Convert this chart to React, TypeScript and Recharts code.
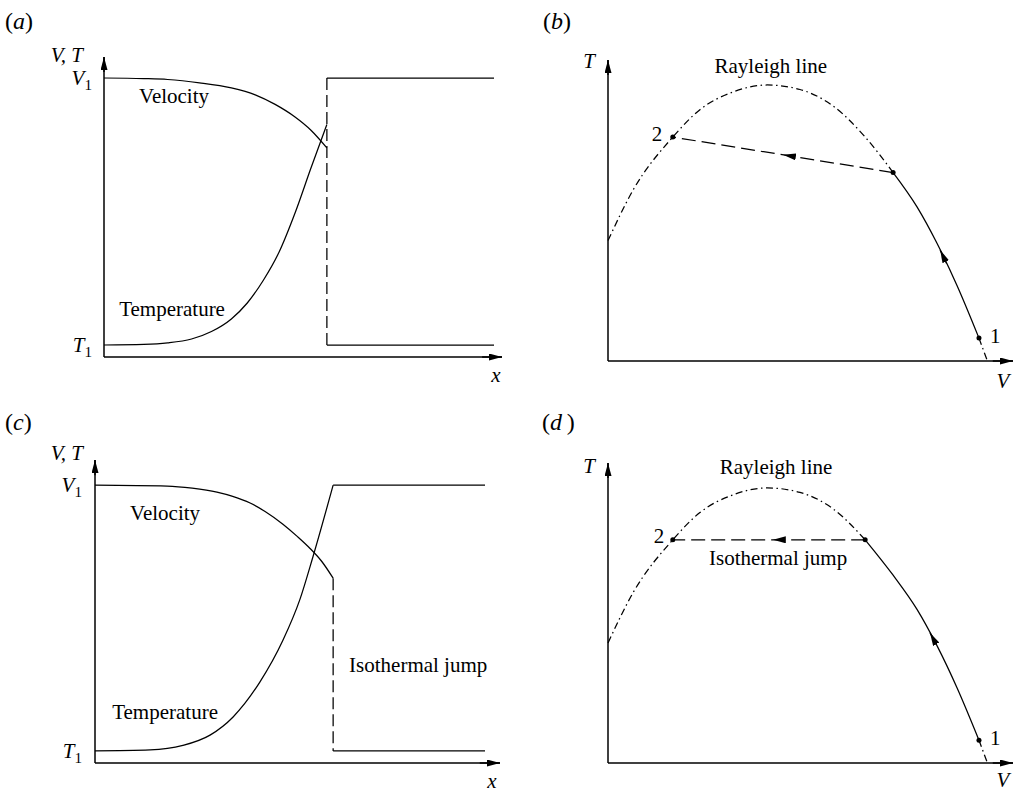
import React from 'react';
import { LineChart, Line, XAxis, YAxis, ReferenceDot } from 'recharts';

const FONT = '"Liberation Serif", "Times New Roman", Times, serif';

// ---------- Panel (a): profiles with a shock ----------
const A_VELOCITY = [
  { x: 0, y: 9.3 }, { x: 1.0, y: 9.28 }, { x: 1.6, y: 9.25 }, { x: 2.4, y: 9.14 },
  { x: 3.2, y: 8.97 }, { x: 3.8, y: 8.74 }, { x: 4.3, y: 8.42 }, { x: 4.8, y: 8.0 },
  { x: 5.2, y: 7.56 }, { x: 5.6, y: 6.97 },
];
const A_TEMPERATURE = [
  { x: 0, y: 0.4 }, { x: 1.0, y: 0.42 }, { x: 1.6, y: 0.47 }, { x: 2.2, y: 0.6 },
  { x: 2.7, y: 0.85 }, { x: 3.2, y: 1.27 }, { x: 3.6, y: 1.8 }, { x: 4.0, y: 2.55 },
  { x: 4.4, y: 3.5 }, { x: 4.8, y: 4.8 }, { x: 5.2, y: 6.3 }, { x: 5.6, y: 7.75 },
];
const A_T2 = [{ x: 5.6, y: 9.3 }, { x: 9.8, y: 9.3 }];
const A_V2 = [{ x: 5.6, y: 0.4 }, { x: 9.8, y: 0.4 }];
const A_SHOCK = [{ x: 5.6, y: 9.3 }, { x: 5.6, y: 0.4 }];
const A_LEFT_TICKS = [0.4, 9.3, 10];
const A_LEFT_LABELS = ['T_1', 'V_1', 'V, T'];
const A_RIGHT_TICKS = [9.3, 0.4];
const A_RIGHT_LABELS = ['T_2', 'V_2'];
const A_NOTES = [
  { x: 1.76, y: 8.47, text: 'Velocity' },
  { x: 1.71, y: 1.37, text: 'Temperature' },
];

// ---------- Panel (c): profiles with an isothermal jump ----------
const C_VELOCITY = [
  { x: 0, y: 9.17 }, { x: 1.78, y: 9.14 }, { x: 2.4, y: 9.07 }, { x: 3.01, y: 8.94 },
  { x: 3.4, y: 8.8 }, { x: 3.83, y: 8.58 }, { x: 4.2, y: 8.3 }, { x: 4.64, y: 7.88 },
  { x: 5.0, y: 7.47 }, { x: 5.31, y: 7.08 }, { x: 5.6, y: 6.65 }, { x: 5.88, y: 6.1 },
];
const C_TEMPERATURE = [
  { x: 0, y: 0.4 }, { x: 1.36, y: 0.43 }, { x: 2.17, y: 0.58 }, { x: 2.84, y: 0.92 },
  { x: 3.41, y: 1.52 }, { x: 4.07, y: 2.67 }, { x: 4.64, y: 4.05 }, { x: 5.06, y: 5.4 },
  { x: 5.38, y: 6.8 }, { x: 5.88, y: 9.17 },
];
const C_T2 = [{ x: 5.88, y: 9.17 }, { x: 9.63, y: 9.17 }];
const C_V2 = [{ x: 5.88, y: 0.4 }, { x: 9.63, y: 0.4 }];
const C_JUMP = [{ x: 5.88, y: 6.1 }, { x: 5.88, y: 0.4 }];
const C_LEFT_TICKS = [0.4, 9.17, 10];
const C_LEFT_LABELS = ['T_1', 'V_1', 'V, T'];
const C_RIGHT_TICKS = [9.17, 0.4];
const C_RIGHT_LABELS = ['T_2', 'V_2'];
const C_NOTES = [
  { x: 1.73, y: 8.02, text: 'Velocity' },
  { x: 1.73, y: 1.45, text: 'Temperature' },
  { x: 7.98, y: 3.0, text: 'Isothermal jump' },
];

// ---------- Panels (b), (d): Rayleigh line in T-V plane ----------
const RAYLEIGH = [
  { v: 0, t: 4.0 }, { v: 0.62, t: 5.68 }, { v: 1.6, t: 7.44 }, { v: 2.27, t: 8.35 },
  { v: 3.09, t: 8.94 }, { v: 3.93, t: 9.17 }, { v: 4.74, t: 9.02 }, { v: 5.56, t: 8.47 },
  { v: 6.35, t: 7.44 }, { v: 7.04, t: 6.26 }, { v: 7.63, t: 5.12 }, { v: 8.12, t: 3.92 },
  { v: 8.62, t: 2.5 }, { v: 9.16, t: 0.76 }, { v: 9.36, t: 0.03 },
];
const POINT_1 = { v: 9.16, t: 0.76 };
const POINT_2 = { v: 1.6, t: 7.44 };
const B_JUMP_START = { v: 7.04, t: 6.26 };
const B_JUMP_ARROW = [{ v: 4.7, t: 6.77 }, { v: 4.32, t: 6.85 }];
const B_PATH_ARROW = [{ v: 8.36, t: 3.24 }, { v: 8.2, t: 3.69 }];
const D_JUMP_START = { v: 6.35, t: 7.44 };
const D_JUMP_ARROW = [{ v: 4.45, t: 7.44 }, { v: 4.07, t: 7.44 }];
const D_PATH_ARROW = [{ v: 8.1, t: 3.97 }, { v: 7.95, t: 4.34 }];
const B_LEFT_TICKS = [10];
const B_LEFT_LABELS = ['T'];
const B_NOTES = [
  { v: 4.02, t: 9.57, text: 'Rayleigh line' },
  { v: 1.21, t: 7.3, text: '2' },
  { v: 9.56, t: 0.6, text: '1' },
];
const D_NOTES = [
  { v: 4.15, t: 9.63, text: 'Rayleigh line' },
  { v: 1.26, t: 7.33, text: '2' },
  { v: 4.2, t: 6.6, text: 'Isothermal jump' },
  { v: 9.56, t: 0.6, text: '1' },
];
const X_END_TICK = [10];
// axis arrow stubs (last stretch of each axis, in data units)
const X_ARROW = [{ x: 9.5, y: 0 }, { x: 10, y: 0 }];
const Y_ARROW = [{ x: 0, y: 9.5 }, { x: 0, y: 10 }];
const V_ARROW = [{ v: 9.5, t: 0 }, { v: 10, t: 0 }];
const T_ARROW = [{ v: 0, t: 9.5 }, { v: 0, t: 10 }];

const PANEL_LETTERS = [
  { letter: 'a', left: 5, top: 29 },
  { letter: 'b', left: 543, top: 29 },
  { letter: 'c', left: 5, top: 430 },
  { letter: 'd', left: 542, top: 430 },
];

// ---------- helpers ----------
const LINE = { stroke: '#000', strokeWidth: 1.25, dot: false, isAnimationActive: false, activeDot: false } as any;
const AXIS_LINE = { stroke: '#000', strokeWidth: 1.5 } as any;
const DASH_DOT = '7 3.5 1.5 3.5';

function MathText({ x, y, label, anchor, size = 21 }: any) {
  const parts = String(label).split('_');
  return (
    <text x={x} y={y} textAnchor={anchor} fontFamily={FONT} fontSize={size} fill="#000">
      <tspan fontStyle="italic">{parts[0]}</tspan>
      {parts[1] ? <tspan fontSize={size * 0.72} dy={5}>{parts[1]}</tspan> : null}
    </text>
  );
}

const makeTick = (values: number[], labels: string[], dx: number[], dy: number[], anchor: string) =>
  (props: any) => {
    const i = values.indexOf(props.payload.value);
    if (i < 0) return <g />;
    return <MathText x={props.x + dx[i]} y={props.y + dy[i]} label={labels[i]} anchor={anchor} />;
  };

const noteShape = (text: string) => (p: any) => (
  <text x={p.cx} y={p.cy} textAnchor="middle" fontFamily={FONT} fontSize={21} fill="#000">{text}</text>
);

const before = (lim: number) => RAYLEIGH.filter((d) => d.v <= lim);
const between = (a: number, b: number) => RAYLEIGH.filter((d) => d.v >= a && d.v <= b);
const after = (lim: number) => RAYLEIGH.filter((d) => d.v >= lim);

function ProfilePanel({ left, top, width, height, margin, vel, temp, t2, v2, jump, leftTicks, leftLabels,
  leftDx, leftDy, rightTicks, rightLabels, rightDx, rightDy, xDx, xDy, notes }: any) {
  return (
    <div style={{ position: 'absolute', left, top }}>
      <LineChart width={width} height={height} margin={margin}>
        <XAxis type="number" dataKey="x" domain={[0, 10]} ticks={X_END_TICK} interval={0}
          tickSize={0} tickMargin={0} tickLine={false} height={20} axisLine={AXIS_LINE}
          tick={makeTick(X_END_TICK, ['x'], [xDx], [xDy], 'middle')} />
        <YAxis type="number" domain={[0, 10]} ticks={leftTicks} interval={0} width={50}
          tickSize={0} tickMargin={0} tickLine={false} axisLine={AXIS_LINE}
          tick={makeTick(leftTicks, leftLabels, leftDx, leftDy, 'end')} />
        <YAxis yAxisId="r" orientation="right" type="number" domain={[0, 10]} ticks={rightTicks} interval={0}
          width={36} tickSize={0} tickMargin={0} tickLine={false} axisLine={false}
          tick={makeTick(rightTicks, rightLabels, rightDx, rightDy, 'start')} />
        <Line {...LINE} data={X_ARROW} dataKey="y" type="linear" strokeWidth={1.5} markerEnd="url(#axisArrow)" />
        <Line {...LINE} data={Y_ARROW} dataKey="y" type="linear" strokeWidth={1.5} markerEnd="url(#axisArrow)" />
        <Line {...LINE} data={vel} dataKey="y" type="monotone" />
        <Line {...LINE} data={temp} dataKey="y" type="monotone" />
        <Line {...LINE} data={t2} dataKey="y" type="linear" />
        <Line {...LINE} data={v2} dataKey="y" type="linear" />
        <Line {...LINE} data={jump} dataKey="y" type="linear" strokeDasharray="12 5" />
        {notes.map((n: any, i: number) => (
          <ReferenceDot key={i} x={n.x} y={n.y} r={0} shape={noteShape(n.text)} />
        ))}
      </LineChart>
    </div>
  );
}

function RayleighPanel({ left, top, width, height, margin, jumpStart, jumpArrow, pathArrow, notes,
  tDx, tDy, vDx, vDy }: any) {
  return (
    <div style={{ position: 'absolute', left, top }}>
      <LineChart width={width} height={height} margin={margin}>
        <XAxis type="number" dataKey="v" domain={[0, 10]} ticks={X_END_TICK} interval={0}
          tickSize={0} tickMargin={0} tickLine={false} height={20} axisLine={AXIS_LINE}
          tick={makeTick(X_END_TICK, ['V'], [vDx], [vDy], 'middle')} />
        <YAxis type="number" domain={[0, 10]} ticks={B_LEFT_TICKS} interval={0} width={40}
          tickSize={0} tickMargin={0} tickLine={false} axisLine={AXIS_LINE}
          tick={makeTick(B_LEFT_TICKS, B_LEFT_LABELS, [tDx], [tDy], 'end')} />
        <Line {...LINE} data={V_ARROW} dataKey="t" type="linear" strokeWidth={1.5} markerEnd="url(#axisArrow)" />
        <Line {...LINE} data={T_ARROW} dataKey="t" type="linear" strokeWidth={1.5} markerEnd="url(#axisArrow)" />
        <Line {...LINE} data={before(jumpStart.v)} dataKey="t" type="monotone" strokeDasharray={DASH_DOT} />
        <Line {...LINE} data={between(jumpStart.v, POINT_1.v)} dataKey="t" type="monotone" />
        <Line {...LINE} data={after(POINT_1.v)} dataKey="t" type="monotone" strokeDasharray={DASH_DOT} />
        <Line {...LINE} data={[jumpStart, POINT_2]} dataKey="t" type="linear" strokeDasharray="14 6" />
        <Line {...LINE} data={jumpArrow} dataKey="t" type="linear" stroke="none" markerEnd="url(#midArrow)" />
        <Line {...LINE} data={pathArrow} dataKey="t" type="linear" markerEnd="url(#midArrow)" />
        <ReferenceDot x={POINT_2.v} y={POINT_2.t} r={2.5} fill="#000" stroke="none" />
        <ReferenceDot x={jumpStart.v} y={jumpStart.t} r={2.5} fill="#000" stroke="none" />
        <ReferenceDot x={POINT_1.v} y={POINT_1.t} r={2.5} fill="#000" stroke="none" />
        {notes.map((n: any, i: number) => (
          <ReferenceDot key={i} x={n.v} y={n.t} r={0} shape={noteShape(n.text)} />
        ))}
      </LineChart>
    </div>
  );
}

export default function App() {
  return (
    <div style={{ position: 'absolute', left: 0, top: 0, width: 1016, height: 792, background: '#fff' }}>
      <svg width={0} height={0} style={{ position: 'absolute' }}>
        <defs>
          <marker id="axisArrow" viewBox="0 0 13 7" refX="13" refY="3.5" markerWidth="13" markerHeight="7"
            markerUnits="userSpaceOnUse" orient="auto">
            <path d="M0,0 L13,3.5 L0,7 Z" fill="#000" />
          </marker>
          <marker id="midArrow" viewBox="0 0 13 7" refX="13" refY="3.5" markerWidth="13" markerHeight="7"
            markerUnits="userSpaceOnUse" orient="auto">
            <path d="M0,0 L13,3.5 L0,7 Z" fill="#000" />
          </marker>
        </defs>
      </svg>

      <ProfilePanel left={0} top={0} width={540} height={395}
        margin={{ top: 57, right: 2, bottom: 18, left: 54 }}
        vel={A_VELOCITY} temp={A_TEMPERATURE} t2={A_T2} v2={A_V2} jump={A_SHOCK}
        leftTicks={A_LEFT_TICKS} leftLabels={A_LEFT_LABELS} leftDx={[-12, -12, -21]} leftDy={[7, 7, 5]}
        rightTicks={A_RIGHT_TICKS} rightLabels={A_RIGHT_LABELS} rightDx={[3, 3]} rightDy={[7, 7]}
        xDx={-6} xDy={25} notes={A_NOTES} />

      <ProfilePanel left={0} top={395} width={540} height={397}
        margin={{ top: 65, right: 4, bottom: 9, left: 45 }}
        vel={C_VELOCITY} temp={C_TEMPERATURE} t2={C_T2} v2={C_V2} jump={C_JUMP}
        leftTicks={C_LEFT_TICKS} leftLabels={C_LEFT_LABELS} leftDx={[-13, -13, -12]} leftDy={[7, 7, 0]}
        rightTicks={C_RIGHT_TICKS} rightLabels={C_RIGHT_LABELS} rightDx={[-10, -10]} rightDy={[7, 7]}
        xDx={-8} xDy={25} notes={C_NOTES} />

      <RayleighPanel left={540} top={0} width={476} height={395}
        margin={{ top: 60, right: 3, bottom: 14, left: 28 }}
        jumpStart={B_JUMP_START} jumpArrow={B_JUMP_ARROW} pathArrow={B_PATH_ARROW} notes={B_NOTES}
        tDx={-13} tDy={8} vDx={-10} vDy={27} />

      <RayleighPanel left={540} top={395} width={476} height={397}
        margin={{ top: 68, right: 3, bottom: 9, left: 28 }}
        jumpStart={D_JUMP_START} jumpArrow={D_JUMP_ARROW} pathArrow={D_PATH_ARROW} notes={D_NOTES}
        tDx={-13} tDy={10} vDx={-10} vDy={24} />

      <svg width={1016} height={792} style={{ position: 'absolute', left: 0, top: 0, pointerEvents: 'none' }}>
        {PANEL_LETTERS.map((p) => (
          <text key={p.letter} x={p.left} y={p.top} fontFamily={FONT} fontSize={24} fill="#000">
            (<tspan fontStyle="italic">{p.letter}</tspan>{p.letter === 'd' ? '\u2009' : ''})
          </text>
        ))}
      </svg>
    </div>
  );
}
